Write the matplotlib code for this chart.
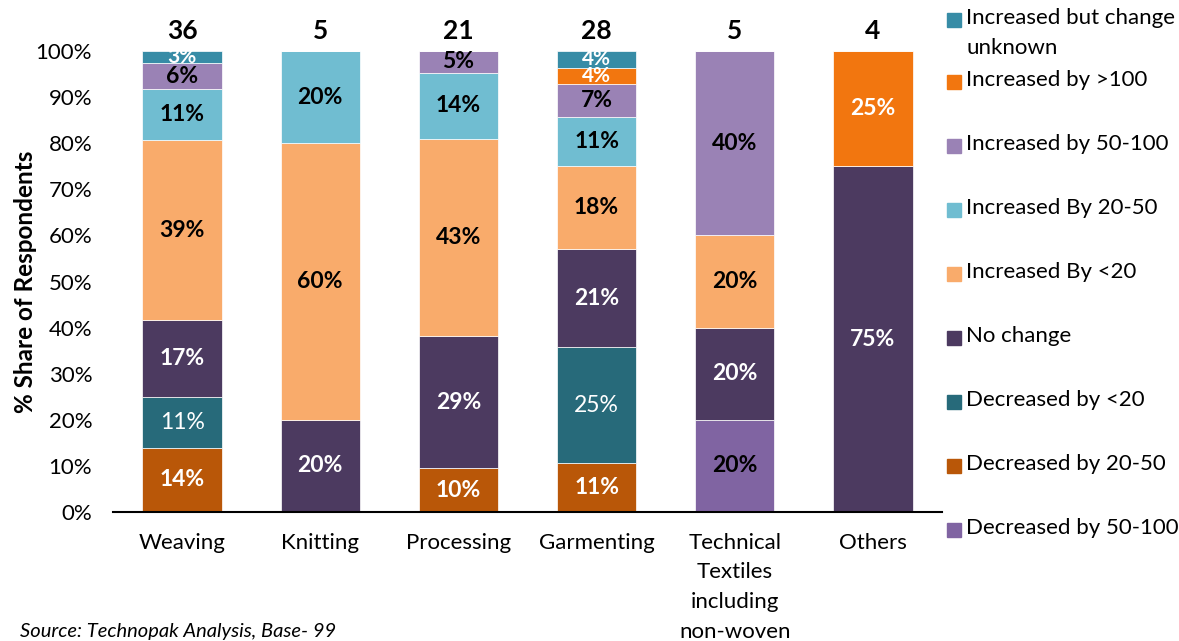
import matplotlib.pyplot as plt
from matplotlib.patches import Rectangle

plt.rcParams['font.family'] = ['Lato', 'DejaVu Sans']

categories = ['Weaving', 'Knitting', 'Processing', 'Garmenting',
              'Technical\nTextiles\nincluding\nnon-woven', 'Others']
totals = [36, 5, 21, 28, 5, 4]

# series, bottom to top of each bar (% share)
series = ['Decreased by 50-100', 'Decreased by 20-50', 'Decreased by <20',
          'No change', 'Increased By <20', 'Increased By 20-50',
          'Increased by 50-100', 'Increased by >100',
          'Increased but change unknown']
dec_50_100 = [0, 0, 0, 0, 20, 0]
dec_20_50 = [13.9, 0, 9.5, 10.7, 0, 0]
dec_lt20 = [11.1, 0, 0, 25.0, 0, 0]
no_change = [16.7, 20, 28.6, 21.4, 20, 75]
inc_lt20 = [38.9, 60, 42.9, 17.9, 20, 0]
inc_20_50 = [11.1, 20, 14.3, 10.7, 0, 0]
inc_50_100 = [5.6, 0, 4.8, 7.1, 40, 0]
inc_gt100 = [0, 0, 0, 3.6, 0, 25]
inc_unknown = [2.8, 0, 0, 3.6, 0, 0]
values = [dec_50_100, dec_20_50, dec_lt20, no_change, inc_lt20,
          inc_20_50, inc_50_100, inc_gt100, inc_unknown]

colors = ['#8064A2', '#B95708', '#276A7A', '#4C3A60', '#F9AB6B',
          '#70BDD1', '#9A82B5', '#F2760F', '#378CA6']
txt_colors = ['black', 'white', 'white', 'white', 'black',
              'black', 'black', 'white', 'white']
txt_weights = ['bold', 'bold', 'normal', 'bold', 'bold',
               'bold', 'bold', 'bold', 'bold']

W, H = 1179, 641
fig = plt.figure(figsize=(W / 100, H / 100), dpi=100)
ax = fig.add_axes([113 / W, 1 - 512 / H, (942 - 113) / W, (512 - 51) / H])

x = range(len(categories))
bottom = [0] * len(categories)
for vals, col, tc, tw in zip(values, colors, txt_colors, txt_weights):
    ax.bar(x, vals, bottom=bottom, width=0.575, color=col,
           edgecolor='white', linewidth=0.5)
    for i, v in enumerate(vals):
        if v > 0:
            # small top segments get a slightly smaller label
            fs = 15 if v < 4 else 16.5
            ax.text(i, bottom[i] + v / 2, f'{round(v)}%', ha='center',
                    va='center', color=tc, fontweight=tw, fontsize=fs)
    bottom = [b + v for b, v in zip(bottom, vals)]

for i, t in enumerate(totals):
    ax.text(i, 104.3, str(t), ha='center', va='center',
            fontsize=19, fontweight='bold')

ax.set_xlim(-0.5, len(categories) - 0.5)
ax.set_ylim(0, 100)
ax.set_yticks(range(0, 101, 10))
ax.set_yticklabels([f'{v}%' for v in range(0, 101, 10)], fontsize=16)
ax.set_xticks(list(x))
ax.set_xticklabels(categories, fontsize=16, linespacing=1.6)
ax.tick_params(axis='both', length=0)
ax.tick_params(axis='x', pad=15)
ax.tick_params(axis='y', pad=15)
for s in ['top', 'right', 'left']:
    ax.spines[s].set_visible(False)
ax.spines['bottom'].set_linewidth(1.5)
ax.set_ylabel('% Share of Respondents', fontsize=17.5, fontweight='bold',
              labelpad=-1)

# legend, top entry first
leg_labels = ['Increased but change\nunknown'] + series[::-1][1:]
leg_colors = colors[::-1]
for i, (lab, col) in enumerate(zip(leg_labels, leg_colors)):
    yc = 20 + 64 * i if i == 0 else 18 + 64 * i
    fig.patches.append(Rectangle((947 / W, 1 - (yc + 7) / H), 14 / W, 14 / H,
                                 color=col, transform=fig.transFigure))
    fig.text(966 / W, 1 - (yc - 12) / H, lab, fontsize=16, va='top',
             ha='left', linespacing=1.6)

fig.text(20 / W, 1 - 632 / H, 'Source: Technopak Analysis, Base- 99',
         fontsize=14.5, style='italic', va='center')

fig.savefig('out.png', dpi=100)
